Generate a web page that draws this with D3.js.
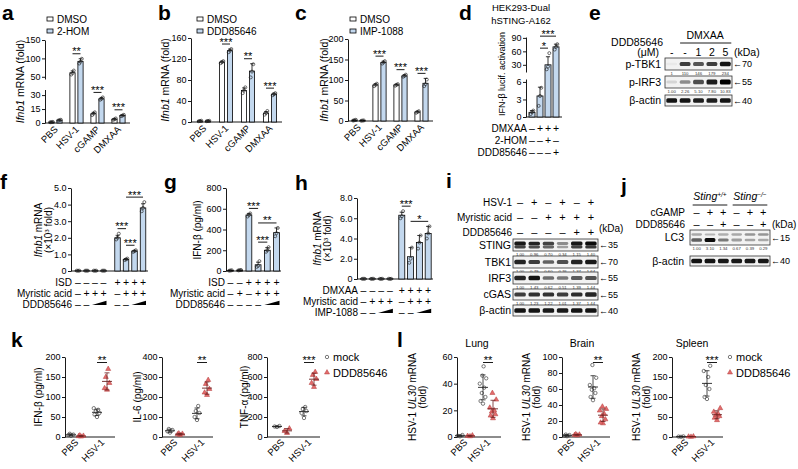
<!DOCTYPE html>
<html><head><meta charset="utf-8">
<script src="https://cdn.jsdelivr.net/npm/d3@7"></script>
<style>
html,body{margin:0;padding:0;background:#fff;}
svg{display:block;font-family:"Liberation Sans",Arial,Helvetica,sans-serif;}
</style></head>
<body>
<svg id="fig" width="798" height="469" viewBox="0 0 798 469"></svg>
<script>
// ================= DATA =================
const catsABC = ["PBS", "HSV-1", "cGAMP", "DMXAA"];

const aDMSO = [1, 61, 10, 4];
const aDMSOsd = [0.3, 5, 1.5, 0.8];
const aDMSOdots = [[0.8, 1, 1.2], [56, 60, 67], [8.5, 10, 11.5], [3.4, 4, 4.9]];
const aHOM = [3, 92, 26, 8];
const aHOMsd = [0.5, 7, 1.5, 0.8];
const aHOMdots = [[2.6, 3.1, 3.5], [86, 91, 99], [25, 26, 27.5], [7.4, 8, 8.8]];
const aSig = ["", "**", "***", "***"];

const bDMSO = [2, 114, 60, 17];
const bDMSOsd = [0.5, 2, 5, 3];
const bDMSOdots = [[1.5, 2, 2.5], [112, 114, 116], [55, 60, 66], [14, 17, 21]];
const bDDD = [2, 136, 97, 53];
const bDDDsd = [0.5, 3, 14, 2];
const bDDDdots = [[1.6, 2, 2.4], [133, 136, 139], [85, 96, 110], [51, 53, 55]];
const bSig = ["", "***", "**", "***"];

const cDMSO = [2, 88, 88, 22];
const cDMSOsd = [1, 3, 2, 2];
const cDMSOdots = [[1, 2, 3], [85, 88, 91], [86, 88, 90], [20, 22, 24]];
const cIMP = [1, 143, 110, 92];
const cIMPsd = [0.5, 3, 3, 12];
const cIMPdots = [[0.6, 1, 1.4], [140, 143, 146], [108, 110, 113], [85, 90, 101]];
const cSig = ["", "***", "***", "***"];

const dVals = [0.8, 3.6, 30, 70];
const dSD = [0.3, 1.5, 18, 6];
const dDots = [[0.5, 0.8, 1.1], [1.9, 3.6, 5.0], [20, 26, 56], [64, 70, 76]];
const dSig = [[1, 2, "*"], [1, 3, "***"]];
const dRows = [
  {label: "DMXAA", signs: ["–", "+", "+", "+"]},
  {label: "2-HOM", signs: ["–", "–", "+", "–"]},
  {label: "DDD85646", signs: ["–", "–", "–", "+"]}
];

const eDoses = ["-", "-", "1", "2", "5"];
const ePTBK1 = [0.04, 0.75, 0.65, 0.75, 0.92];
const ePTBK1q = ["1", "110", "146", "179", "234"];
const ePIRF3 = [0.12, 0.42, 0.68, 0.88, 1.0];
const ePIRF3q = ["1.00", "2.26", "5.10", "7.80", "10.83"];
const eActin = [0.92, 0.92, 0.88, 0.88, 0.92];

const fVals = [0.02, 0.02, 0.02, 0.02, 2.0, 0.7, 1.2, 3.8];
const fSD = [0, 0, 0, 0, 0.15, 0.05, 0.04, 0.25];
const fDots = [[0.02, 0.02, 0.02], [0.02, 0.02, 0.02], [0.02, 0.02, 0.02], [0.02, 0.02, 0.02],
  [1.9, 2.0, 2.25], [0.66, 0.7, 0.75], [1.15, 1.2, 1.25], [3.6, 3.8, 4.15]];
const fSig = [[4, 5, "***"], [5, 6, "***"], [5, 7, "***"]];
const fRows = [
  {label: "ISD", signs: ["–", "–", "–", "–", "+", "+", "+", "+"]},
  {label: "Myristic acid", signs: ["–", "+", "+", "+", "–", "+", "+", "+"]},
  {label: "DDD85646", signs: ["–", "–", "<", "", "–", "–", "<", ""]}
];

const gVals = [5, 8, 540, 60, 200, 370];
const gSD = [2, 2, 15, 25, 25, 45];
const gDots = [[3, 5, 7], [6, 8, 10], [525, 540, 555], [40, 50, 95], [185, 200, 230], [335, 365, 415]];
const gSig = [[2, 3, "***"], [3, 4, "***"], [3, 5, "**"]];
const gRows = [
  {label: "ISD", signs: ["–", "–", "+", "+", "+", "+"]},
  {label: "Myristic acid", signs: ["–", "+", "–", "+", "+", "+"]},
  {label: "DDD85646", signs: ["–", "–", "–", "–", "<", ""]}
];

const hVals = [0.02, 0.02, 0.02, 0.02, 6.3, 2.2, 3.6, 4.5];
const hSD = [0, 0, 0, 0, 0.3, 0.9, 0.7, 0.7];
const hDots = [[0.02, 0.02, 0.02], [0.02, 0.02, 0.02], [0.02, 0.02, 0.02], [0.02, 0.02, 0.02],
  [6.0, 6.2, 6.7], [1.6, 2.0, 3.1], [3.0, 3.6, 4.3], [4.0, 4.5, 5.2]];
const hSig = [[4, 5, "***"], [5, 7, "*"]];
const hRows = [
  {label: "DMXAA", signs: ["–", "–", "–", "–", "+", "+", "+", "+"]},
  {label: "Myristic acid", signs: ["–", "+", "+", "+", "–", "+", "+", "+"]},
  {label: "IMP-1088", signs: ["–", "–", "<", "", "–", "–", "<", ""]}
];

const iRowsSigns = [
  {label: "HSV-1", signs: ["–", "+", "–", "+", "–", "+"]},
  {label: "Myristic acid", signs: ["–", "–", "+", "+", "+", "+"]},
  {label: "DDD85646", signs: ["–", "–", "–", "–", "+", "+"]}
];
const iSTING = [0.9, 0.85, 0.72, 0.42, 0.9, 0.95];
const iSTINGq = ["1.00", "0.96", "0.70", "0.34", "1.15", "1.40"];
const iTBK1 = [0.85, 0.75, 0.6, 0.68, 0.85, 0.9];
const iTBK1q = ["1.00", "0.79", "0.60", "0.76", "1.37", "1.64"];
const iIRF3 = [0.85, 0.92, 0.55, 0.5, 0.62, 0.66];
const iIRF3q = ["1.00", "1.43", "0.62", "0.51", "1.39", "1.44"];
const iCGAS = [0.75, 0.8, 0.8, 0.75, 0.82, 0.85];
const iCGASq = ["1.00", "1.23", "1.22", "1.01", "1.37", "1.44"];
const iActin = [0.92, 0.92, 0.9, 0.9, 0.92, 0.92];

const jRowsSigns = [
  {label: "cGAMP", signs: ["–", "+", "+", "–", "+", "+"]},
  {label: "DDD85646", signs: ["–", "–", "+", "–", "–", "+"]}
];
const jLC3I = [0.3, 0.25, 0.28, 0.3, 0.38, 0.38];
const jLC3II = [0.6, 0.95, 0.5, 0.35, 0.32, 0.3];
const jLC3q = ["1.00", "3.10", "1.34", "0.67", "0.39", "0.29"];
const jActin = [0.92, 0.92, 0.9, 0.9, 0.9, 0.9];

const kIfnMock = [[3, 5, 6, 8], [50, 56, 60, 64, 68, 72]];
const kIfnDDD = [[1, 2, 3, 4], [118, 122, 135, 150, 170]];
const kIl6Mock = [[22, 28, 35, 40], [85, 100, 120, 130, 155]];
const kIl6DDD = [[10, 13, 16, 18], [210, 222, 240, 265, 285]];
const kTnfMock = [[100, 105, 110], [190, 240, 260, 280, 300]];
const kTnfDDD = [[40, 60, 85], [500, 540, 580, 620, 650]];

const lLungMock = [[0.5, 1, 1.5], [25, 27, 30, 33, 37, 40, 44, 46, 53]];
const lLungDDD = [[0.5, 0.8, 1.2], [14, 16, 17, 19, 20, 22, 28, 33]];
const lBrainMock = [[1, 1.5, 2.5, 3], [46, 50, 55, 59, 61, 65, 74, 90]];
const lBrainDDD = [[2, 2.5, 3, 3.5], [17, 18, 22, 26, 29, 33, 35, 38]];
const lSpleenMock = [[0.5, 1, 1.5], [95, 100, 120, 130, 150, 165, 178]];
const lSpleenDDD = [[0.5, 1, 1.5], [42, 48, 52, 55, 58, 63, 72]];
const scatterCats = ["PBS", "HSV-1"];

// ================= STYLE / HELPERS =================
const svg = d3.select("#fig");
const BLUE = "#c3d8ee", RED = "#e36d6d", REDS = "#b33a3a";
const JIT3 = [-1.3, 0, 1.3];
const JITS = [0, -2.4, 2.4, -1.2, 1.2, -3.2, 3.2, -0.6, 0.6, -2];

svg.append("defs").append("filter").attr("id", "blur")
  .attr("x", "-30%").attr("y", "-80%").attr("width", "160%").attr("height", "260%")
  .append("feGaussianBlur").attr("stdDeviation", 0.6);

function T(x, y, s, o = {}) {
  const t = svg.append("text").attr("x", x).attr("y", y).attr("font-size", o.fs || 10)
    .attr("fill", o.fill || "#000").text(s);
  if (o.a) t.attr("text-anchor", o.a);
  if (o.b) t.attr("font-weight", "bold");
  if (o.i) t.attr("font-style", "italic");
  return t;
}
function letter(s, x, y) { T(x, y, s, {fs: 21, b: 1}); }
function rich(x, y, parts, fs, rot, anchor) {
  const t = svg.append("text").attr("font-size", fs).attr("text-anchor", anchor || "middle")
    .attr("transform", `translate(${x},${y})` + (rot ? ` rotate(${rot})` : ""));
  parts.forEach(p => {
    const s = t.append("tspan").text(p[0]);
    if (p[1] === 1) s.attr("font-style", "italic");
    if (p[1] === 2) s.attr("baseline-shift", "super").attr("font-size", fs * 0.62);
    if (p[1] === 3) s.attr("font-style", "italic").attr("baseline-shift", "super").attr("font-size", fs * 0.62);
  });
  return t;
}
function styleAxis(g) {
  g.attr("font-family", null).attr("font-size", null);
  g.selectAll("path,line").attr("stroke", "#000").attr("stroke-width", 0.9);
  g.selectAll("text").attr("font-size", 9).attr("fill", "#000");
}
function yAxisSeg(x, dom, rng, ticks, fmt) {
  const s = d3.scaleLinear().domain(dom).range(rng);
  svg.append("g").attr("transform", `translate(${x},0)`)
    .call(d3.axisLeft(s).tickValues(ticks).tickSize(3).tickSizeOuter(0).tickPadding(1.5)
      .tickFormat(fmt || (d => d)))
    .call(styleAxis);
}
function hline(x1, x2, y, w, col) {
  svg.append("line").attr("x1", x1).attr("x2", x2).attr("y1", y).attr("y2", y)
    .attr("stroke", col || "#000").attr("stroke-width", w || 0.9);
}
function vline(x, y1, y2, w, col) {
  svg.append("line").attr("x1", x).attr("x2", x).attr("y1", y1).attr("y2", y2)
    .attr("stroke", col || "#000").attr("stroke-width", w || 0.9);
}
const fmt1 = d => d === 0 ? "0" : d.toFixed(1);
const topOf = b => Math.max(b.v + b.sd, d3.max(b.dots));

function drawBars(list, y, w) {
  const y0 = y(0);
  list.forEach(b => {
    svg.append("rect").attr("x", b.x - w / 2).attr("y", y(b.v)).attr("width", w)
      .attr("height", Math.max(0, y0 - y(b.v)))
      .attr("fill", b.fill).attr("stroke", "#000").attr("stroke-width", 0.8);
    if (b.sd > 0) {
      const ye = y(b.v + b.sd);
      vline(b.x, y(b.v), ye, 0.8);
      hline(b.x - w * 0.35, b.x + w * 0.35, ye, 0.8);
    }
    b.dots.forEach((d, k) => svg.append("circle").attr("cx", b.x + JIT3[k % 3]).attr("cy", y(d))
      .attr("r", 1.5).attr("fill", "none").attr("stroke", "#222").attr("stroke-width", 0.65));
  });
}
function drawSig(xs, tops, y, comps) {
  const placed = [];
  comps.forEach(([i, j, lab]) => {
    const top = d3.max(d3.range(i, j + 1), k => tops[k]);
    let ly = y(top) - 5;
    placed.forEach(p => { if (p.i < j && i < p.j) ly = Math.min(ly, p.y - 12); });
    placed.push({i, j, y: ly});
    hline(xs[i], xs[j], ly, 0.9);
    T((xs[i] + xs[j]) / 2, ly + 1.5, lab, {fs: 11, a: "middle"});
  });
}
function signRows(xs, labelX, y0, dy, rows, fs) {
  rows.forEach((r, ri) => {
    const yy = y0 + ri * dy;
    T(labelX, yy, r.label, {fs: 10, a: "end"});
    r.signs.forEach((s, i) => {
      if (s === "<") {
        const xa = xs[i] - 3, xb = xs[i + 1] + 3;
        svg.append("path").attr("d", `M${xa},${yy - 2.5} L${xb},${yy - 2.5} L${xb},${yy - 6.8} Z`).attr("fill", "#000");
      } else if (s) {
        T(xs[i], yy, s, {fs: fs || 10.5, a: "middle"});
      }
    });
  });
}
function legendBars(x, y, items) {
  items.forEach((it, k) => {
    svg.append("rect").attr("x", x).attr("y", y + k * 12 - 2).attr("width", 6).attr("height", 4)
      .attr("fill", it[1]).attr("stroke", "#000").attr("stroke-width", 0.8);
    T(x + 10, y + k * 12 + 3.5, it[0], {fs: 10});
  });
}

function grouped(o) {
  const xb = d3.scaleBand().domain(catsABC).range(o.band);
  const cx = c => xb(c) + xb.bandwidth() / 2;
  const list = [];
  o.series.forEach((s, si) => catsABC.forEach((c, i) => list.push({
    x: cx(c) + (si ? o.off : -o.off), v: s.v[i], sd: s.sd[i], dots: s.dots[i], fill: s.fill})));
  o.segs.forEach(sg => yAxisSeg(o.ax, sg[0], sg[1], sg[2]));
  hline(o.ax, o.band[1] + 1, o.y(0));
  drawBars(list, o.y, o.bw);
  catsABC.forEach((c, i) => {
    if (!o.sig[i]) return;
    const a = list[i], b = list[4 + i];
    drawSig([a.x, b.x], [topOf(a), topOf(b)], o.y, [[0, 1, o.sig[i]]]);
  });
  catsABC.forEach(c => rich(cx(c) + 3, o.y(0) + 7, [[c]], 9.5, -45, "end"));
}

function blot(o) {
  const xs = o.lanes;
  svg.append("rect").attr("x", o.x).attr("y", o.y).attr("width", o.w).attr("height", o.h)
    .attr("fill", "#f2f2f2").attr("stroke", "#333").attr("stroke-width", 0.8);
  const g = svg.append("g").attr("filter", "url(#blur)");
  o.layers.forEach(L => L.vals.forEach((v, i) => {
    const bh = L.bh * (0.6 + 0.55 * v);
    g.append("rect").attr("x", xs(i) + 0.5).attr("width", xs.bandwidth() - 1)
      .attr("y", o.y + L.dy - bh / 2).attr("height", bh).attr("rx", 1.5)
      .attr("fill", "#000").attr("opacity", Math.min(1, v));
  }));
  T(o.labelX, o.y + o.h / 2 + 3.6, o.label, {fs: 10.5, a: "end"});
  T(o.x + o.w + 1, o.y + o.h / 2 + 3.3, "\u2190" + o.kda, {fs: 9});
  if (o.nums) o.nums.forEach((n, i) =>
    T(xs(i) + xs.bandwidth() / 2, o.y + o.h + 4.6, n, {fs: 4.3, a: "middle", fill: "#333"}));
}

function scatter(o) {
  const y = d3.scaleLinear().domain([0, o.max]).range([437, 357]);
  yAxisSeg(o.x0, [0, o.max], [437, 357], o.ticks);
  hline(o.x0, o.x0 + o.w, 437);
  const xp = d3.scalePoint().domain(scatterCats).range([o.x0 + o.c1, o.x0 + o.c2]);
  [["mock", o.mock], ["ddd", o.ddd]].forEach(([kind, arr], si) => {
    arr.forEach((vals, gi) => {
      const cx = xp(scatterCats[gi]) + (si ? 5 : -5);
      vals.slice().sort(d3.ascending).forEach((v, k) => {
        const px = cx + JITS[k % JITS.length];
        if (kind === "mock") svg.append("circle").attr("cx", px).attr("cy", y(v)).attr("r", 1.7)
          .attr("fill", "none").attr("stroke", "#444").attr("stroke-width", 0.7);
        else svg.append("path").attr("d", d3.symbol().type(d3.symbolTriangle).size(11)())
          .attr("transform", `translate(${px},${y(v)})`).attr("fill", RED).attr("stroke", REDS).attr("stroke-width", 0.5);
      });
      const m = d3.mean(vals), sd = d3.deviation(vals);
      const col = kind === "mock" ? "#222" : "#6b1f1f";
      hline(cx - 5, cx + 5, y(m), 0.9, col);
      vline(cx, y(m - sd), y(m + sd), 0.8, col);
      hline(cx - 2.5, cx + 2.5, y(m - sd), 0.8, col);
      hline(cx - 2.5, cx + 2.5, y(m + sd), 0.8, col);
    });
  });
  const hx = xp("HSV-1");
  hline(hx - 5, hx + 5, 362.5, 0.9);
  T(hx, 363.5, o.sig, {fs: 11, a: "middle"});
  scatterCats.forEach(c => rich(xp(c) + 3, 443, [[c]], 9.5, -45, "end"));
  o.ylab.forEach((ln, k) => rich(o.labX[k], 397, ln, 10, -90, "middle"));
  if (o.title) T(o.x0 + 20, 346.5, o.title, {fs: 10.5, a: "middle"});
}
function scatterLegend(x) {
  svg.append("circle").attr("cx", x).attr("cy", 357).attr("r", 1.7).attr("fill", "none").attr("stroke", "#444").attr("stroke-width", 0.7);
  T(x + 6, 361, "mock", {fs: 11});
  svg.append("path").attr("d", d3.symbol().type(d3.symbolTriangle).size(11)())
    .attr("transform", `translate(${x},${372.5})`).attr("fill", RED).attr("stroke", REDS).attr("stroke-width", 0.5);
  T(x + 6, 377, "DDD85646", {fs: 11});
}

// ================= PANEL a =================
letter("a", 2, 19.5);
legendBars(47, 19, [["DMSO", "#fff"], ["2-HOM", BLUE]]);
const yA = d3.scaleLinear().domain([0, 36, 44, 150]).range([123, 89.5, 79, 40]);
grouped({ax: 45, band: [45, 129], off: 4, bw: 5.2, y: yA,
  segs: [[[0, 36], [123, 89.5], [0, 15, 30]], [[44, 150], [79, 40], [50, 100, 150]]],
  series: [{v: aDMSO, sd: aDMSOsd, dots: aDMSOdots, fill: "#fff"}, {v: aHOM, sd: aHOMsd, dots: aHOMdots, fill: BLUE}],
  sig: aSig});
rich(23.5, 81.5, [["Ifnb1", 1], [" mRNA (fold)"]], 10.5, -90);

// ================= PANEL b =================
letter("b", 158, 19.5);
legendBars(197, 19, [["DMSO", "#fff"], ["DDD85646", BLUE]]);
const yB = d3.scaleLinear().domain([0, 160]).range([122, 38]);
grouped({ax: 191, band: [193, 281], off: 4, bw: 5.2, y: yB,
  segs: [[[0, 160], [122, 38], [0, 40, 80, 120, 160]]],
  series: [{v: bDMSO, sd: bDMSOsd, dots: bDMSOdots, fill: "#fff"}, {v: bDDD, sd: bDDDsd, dots: bDDDdots, fill: BLUE}],
  sig: bSig});
rich(168.5, 80, [["Ifnb1", 1], [" mRNA (fold)"]], 10.5, -90);

// ================= PANEL c =================
letter("c", 295, 19.5);
legendBars(350, 19, [["DMSO", "#fff"], ["IMP-1088", BLUE]]);
const yC = d3.scaleLinear().domain([0, 200]).range([121, 39]);
grouped({ax: 348, band: [348, 432], off: 4, bw: 5.2, y: yC,
  segs: [[[0, 200], [121, 39], [0, 50, 100, 150, 200]]],
  series: [{v: cDMSO, sd: cDMSOsd, dots: cDMSOdots, fill: "#fff"}, {v: cIMP, sd: cIMPsd, dots: cIMPdots, fill: BLUE}],
  sig: cSig});
rich(327.5, 80, [["Ifnb1", 1], [" mRNA (fold)"]], 10.5, -90);

// ================= PANEL d =================
letter("d", 459, 19.5);
T(521, 10.5, "HEK293-Dual", {fs: 9.5, a: "middle"});
T(521, 23.5, "hSTING-A162", {fs: 9.5, a: "middle"});
const yD = d3.scaleLinear().domain([0, 6.5, 14, 92]).range([117, 79, 72, 37]);
yAxisSeg(526, [0, 6.5], [117, 79], [0, 3, 6]);
yAxisSeg(526, [14, 92], [72, 37], [30, 60, 90]);
const dx = d3.scaleBand().domain(d3.range(4)).range([528, 560]);
const dXs = d3.range(4).map(i => dx(i) + dx.bandwidth() / 2);
hline(526, 562, yD(0));
const dList = dVals.map((v, i) => ({x: dXs[i], v, sd: dSD[i], dots: dDots[i], fill: BLUE}));
drawBars(dList, yD, 6);
drawSig(dXs, dList.map(topOf), yD, dSig);
rich(505, 74, [["IFN-β lucif. activation"]], 9, -90);
signRows(dXs, 527, 132, 12, dRows, 10.5);

// ================= PANEL e =================
letter("e", 589, 19.5);
const eLanes = d3.scaleBand().domain(d3.range(5)).range([665, 732]).paddingInner(0.12).paddingOuter(0.06);
const elc = i => eLanes(i) + eLanes.bandwidth() / 2;
T(663, 45.5, "DDD85646", {fs: 10.5, a: "end"});
T(659, 56, "(μM)", {fs: 10.5, a: "end"});
eDoses.forEach((d, i) => T(elc(i), 56, d, {fs: 10.5, a: "middle"}));
T((elc(1) + elc(4)) / 2, 38.5, "DMXAA", {fs: 10.5, a: "middle"});
hline(elc(1) - 5, elc(4) + 6, 43, 0.9);
T(734, 56, "(kDa)", {fs: 10.5});
blot({x: 665, y: 58, w: 67, h: 12, lanes: eLanes, layers: [{dy: 6, bh: 4, vals: ePTBK1}], label: "p-TBK1", labelX: 661, kda: "70", nums: ePTBK1q});
blot({x: 665, y: 76, w: 67, h: 12, lanes: eLanes, layers: [{dy: 6, bh: 4.5, vals: ePIRF3}], label: "p-IRF3", labelX: 661, kda: "55", nums: ePIRF3q});
blot({x: 665, y: 95, w: 67, h: 11, lanes: eLanes, layers: [{dy: 5.5, bh: 4, vals: eActin}], label: "β-actin", labelX: 661, kda: "40"});

// ================= PANEL f =================
letter("f", 0, 189);
const yF = d3.scaleLinear().domain([0, 5]).range([271, 188]);
yAxisSeg(71, [0, 5], [271, 188], [0, 1, 2, 3, 4, 5], fmt1);
const fx = d3.scaleLinear().domain([0, 1]).range([78, 86.5]);
const fXs = fVals.map((v, i) => fx(i + (i >= 4 ? 0.65 : 0)));
hline(71, 148, yF(0));
const fList = fVals.map((v, i) => ({x: fXs[i], v, sd: fSD[i], dots: fDots[i], fill: BLUE}));
drawBars(fList, yF, 5.5);
drawSig(fXs, fList.map(topOf), yF, fSig);
rich(41.5, 230, [["Ifnb1", 1], [" mRNA"]], 10, -90);
rich(51.5, 230, [["(×10"], ["3", 2], [" fold)"]], 10, -90);
signRows(fXs, 72, 285.5, 11, fRows, 10.5);

// ================= PANEL g =================
letter("g", 164, 189);
const yG = d3.scaleLinear().domain([0, 800]).range([271, 188]);
yAxisSeg(226, [0, 800], [271, 188], [0, 200, 400, 600, 800]);
const gx = d3.scaleLinear().domain([0, 1]).range([230.5, 239.7]);
const gXs = gVals.map((v, i) => gx(i));
hline(226, 281, yG(0));
const gList = gVals.map((v, i) => ({x: gXs[i], v, sd: gSD[i], dots: gDots[i], fill: BLUE}));
drawBars(gList, yG, 5.8);
drawSig(gXs, gList.map(topOf), yG, gSig);
rich(200.5, 230, [["IFN-β (pg/ml)"]], 10, -90);
signRows(gXs, 225, 285.5, 11, gRows, 10.5);

// ================= PANEL h =================
letter("h", 295, 190);
const yH = d3.scaleLinear().domain([0, 8]).range([279, 198]);
yAxisSeg(357, [0, 8], [279, 198], [0, 2, 4, 6, 8], fmt1);
const hx = d3.scaleLinear().domain([0, 1]).range([363.5, 372.3]);
const hXs = hVals.map((v, i) => hx(i + (i >= 4 ? 0.35 : 0)));
hline(357, 433, yH(0));
const hList = hVals.map((v, i) => ({x: hXs[i], v, sd: hSD[i], dots: hDots[i], fill: BLUE}));
drawBars(hList, yH, 6);
drawSig(hXs, hList.map(topOf), yH, hSig);
rich(320.5, 238.5, [["Ifnb1", 1], [" mRNA"]], 10, -90);
rich(330.5, 238.5, [["(×10"], ["3", 2], [" fold)"]], 10, -90);
signRows(hXs, 358, 293.5, 11, hRows, 10.5);

// ================= PANEL i =================
letter("i", 446, 188);
const iLanes = d3.scaleBand().domain(d3.range(6)).range([513, 598]).paddingInner(0.12).paddingOuter(0.06);
const iXs = d3.range(6).map(i => iLanes(i) + iLanes.bandwidth() / 2);
signRows(iXs, 512, 205.5, 15, iRowsSigns, 11);
T(599, 232, "(kDa)", {fs: 10});
blot({x: 513, y: 239, w: 85, h: 12, lanes: iLanes, layers: [{dy: 4.5, bh: 3.5, vals: iSTING}, {dy: 8, bh: 3, vals: iSTING.map(v => v * 0.8)}], label: "STING", labelX: 511, kda: "35", nums: iSTINGq});
blot({x: 513, y: 256, w: 85, h: 12, lanes: iLanes, layers: [{dy: 6, bh: 4, vals: iTBK1}], label: "TBK1", labelX: 511, kda: "70", nums: iTBK1q});
blot({x: 513, y: 272, w: 85, h: 12, lanes: iLanes, layers: [{dy: 6, bh: 4, vals: iIRF3}], label: "IRF3", labelX: 511, kda: "55"});
blot({x: 513, y: 289, w: 85, h: 11, lanes: iLanes, layers: [{dy: 5.5, bh: 4, vals: iCGAS}], label: "cGAS", labelX: 511, kda: "55", nums: iCGASq});
blot({x: 513, y: 305, w: 85, h: 11, lanes: iLanes, layers: [{dy: 5.5, bh: 4, vals: iActin}], label: "β-actin", labelX: 511, kda: "40"});
iIRF3q.forEach((n, i) => T(iXs[i], 288.6, n, {fs: 4.3, a: "middle", fill: "#333"}));

// ================= PANEL j =================
letter("j", 621, 193);
const jLanes = d3.scaleBand().domain(d3.range(6)).range([690, 770]).paddingInner(0.12).paddingOuter(0.06);
const jXs = d3.range(6).map(i => jLanes(i) + jLanes.bandwidth() / 2);
rich((jXs[0] + jXs[2]) / 2, 200, [["Sting", 1], ["+/+", 3]], 10.5, 0, "middle");
rich((jXs[3] + jXs[5]) / 2, 200, [["Sting", 1], ["−/−", 3]], 10.5, 0, "middle");
hline(jXs[0] - 4, jXs[2] + 4, 205, 0.9);
hline(jXs[3] - 4, jXs[5] + 4, 205, 0.9);
signRows(jXs, 685, 215.5, 12, jRowsSigns, 11);
T(772, 227.5, "(kDa)", {fs: 10});
blot({x: 690, y: 230, w: 80, h: 15, lanes: jLanes, layers: [{dy: 4.5, bh: 3, vals: jLC3I}, {dy: 10, bh: 3.5, vals: jLC3II}], label: "LC3", labelX: 684, kda: "15", nums: jLC3q});
blot({x: 690, y: 256, w: 80, h: 10, lanes: jLanes, layers: [{dy: 5, bh: 4, vals: jActin}], label: "β-actin", labelX: 684, kda: "40"});

// ================= PANEL k =================
letter("k", 11, 347);
scatter({x0: 65, w: 50, c1: 11, c2: 37, max: 200, ticks: [0, 50, 100, 150, 200], mock: kIfnMock, ddd: kIfnDDD, sig: "**",
  ylab: [[["IFN-β (pg/ml)"]]], labX: [41.5]});
scatter({x0: 162, w: 51, c1: 13, c2: 40, max: 400, ticks: [0, 100, 200, 300, 400], mock: kIl6Mock, ddd: kIl6DDD, sig: "**",
  ylab: [[["IL-6 (pg/ml)"]]], labX: [140.5]});
scatter({x0: 267, w: 53, c1: 15, c2: 42, max: 800, ticks: [0, 200, 400, 600, 800], mock: kTnfMock, ddd: kTnfDDD, sig: "***",
  ylab: [[["TNF-α (pg/ml)"]]], labX: [247.5]});
scatterLegend(327);

// ================= PANEL l =================
letter("l", 397, 347);
const ulab = [[["HSV-1 "], ["UL30", 1], [" mRNA"]], [["(fold)"]]];
scatter({x0: 457, w: 44, c1: 8, c2: 31, max: 60, ticks: [0, 20, 40, 60], mock: lLungMock, ddd: lLungDDD, sig: "**",
  ylab: ulab, labX: [415.5, 425.5], title: "Lung"});
scatter({x0: 562, w: 48, c1: 10, c2: 36, max: 100, ticks: [0, 20, 40, 60, 80, 100], mock: lBrainMock, ddd: lBrainDDD, sig: "**",
  ylab: ulab, labX: [529.5, 539.5], title: "Brain"});
scatter({x0: 672, w: 51, c1: 14, c2: 40, max: 200, ticks: [0, 50, 100, 150, 200], mock: lSpleenMock, ddd: lSpleenDDD, sig: "***",
  ylab: ulab, labX: [639.5, 649.5], title: "Spleen"});
scatterLegend(730);
</script>
</body></html>
